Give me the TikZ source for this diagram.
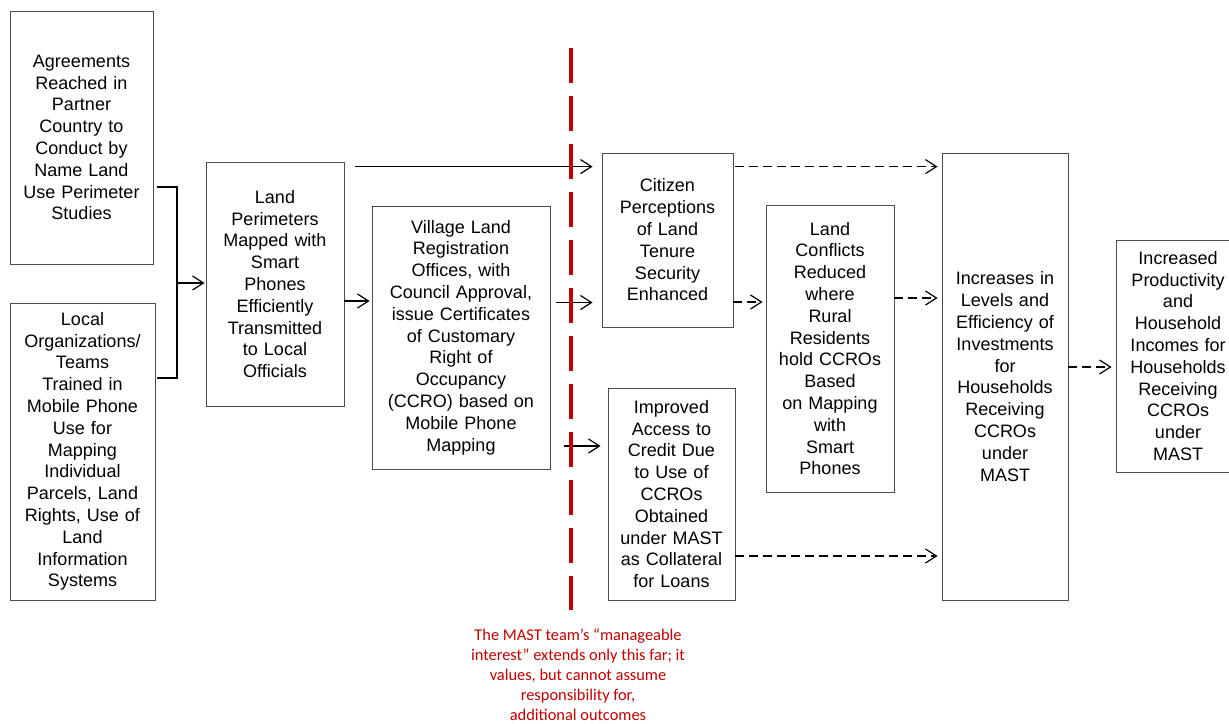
\documentclass[tikz,border=0pt]{standalone}
\usepackage{fontspec}
\setmainfont{Liberation Sans}
\newfontfamily\notefont{Carlito}
\usetikzlibrary{arrows.meta}
\definecolor{mastred}{RGB}{192,0,0}

\tikzset{
  box/.style={draw=black!70, line width=0.8pt, align=center, inner sep=0pt,
    font=\fontsize{18}{21.8}\selectfont},
  arr/.style={line width=1.2pt, -{Straight Barb[length=11pt,width=14pt]}},
  darr/.style={arr, dash pattern=on 9pt off 5pt},
  redline/.style={draw=mastred, line width=4pt, dash pattern=on 35pt off 13pt},
  note/.style={text=mastred, align=center, inner sep=0pt,
    font=\notefont\fontsize{16.4}{20}\selectfont},
}

\begin{document}
\begin{tikzpicture}[x=1pt,y=-1pt]
  \useasboundingbox (0,0) rectangle (1229,723);

  % inputs
  \node[box, text width=143pt, minimum height=253pt] (A) at (81.5,137.5)
    {Agreements\\Reached in\\Partner\\Country to\\Conduct by\\Name Land\\Use Perimeter\\Studies};
  \node[box, text width=145pt, minimum height=297pt] (B) at (82.5,451.5)
    {Local\\Organizations/\\Teams\\Trained in\\Mobile Phone\\Use for\\Mapping\\Individual\\Parcels, Land\\Rights, Use of\\Land\\Information\\Systems};

  % outputs
  \node[box, text width=138pt, minimum height=244pt] (C) at (275,284)
    {Land\\Perimeters\\Mapped with\\Smart\\Phones\\Efficiently\\Transmitted\\to Local\\Officials};
  \node[box, text width=178pt, minimum height=263pt] (D) at (461,337.5)
    {Village Land\\Registration\\Offices, with\\Council Approval,\\issue Certificates\\of Customary\\Right of\\Occupancy\\(CCRO) based on\\Mobile Phone\\Mapping};

  % outcomes
  \node[box, text width=131pt, minimum height=174pt] (E) at (667.5,240)
    {Citizen\\Perceptions\\of Land\\Tenure\\Security\\Enhanced};
  \node[box, text width=127pt, minimum height=212pt] (F) at (671.5,494)
    {Improved\\Access to\\Credit Due\\to Use of\\CCROs\\Obtained\\under MAST\\as Collateral\\for Loans};
  \node[box, text width=128pt, minimum height=287pt] (G) at (830,348.5)
    {Land\\Conflicts\\Reduced\\where\\Rural\\Residents\\hold CCROs\\Based\\on Mapping\\with\\Smart\\Phones};
  \node[box, text width=126pt, minimum height=447pt] (H) at (1005,376.5)
    {Increases in\\Levels and\\Efficiency of\\Investments\\for\\Households\\Receiving\\CCROs\\under\\MAST};
  \node[box, text width=124pt, minimum height=232pt] (I) at (1178,356)
    {Increased\\Productivity\\and\\Household\\Incomes for\\Households\\Receiving\\CCROs\\under\\MAST};

  % bracket joining the inputs
  \coordinate (bt) at (157,187);
  \coordinate (bb) at (157,378);
  \coordinate (bm) at (177,283);
  \draw[line width=1.2pt] (bt) -- (bt -| bm) -- (bb -| bm) -- (bb);
  \draw[arr, shorten >=1pt] (bm) -- (bm -| C.west);

  % solid links
  \coordinate (c1) at ([xshift=11pt,yshift=-5pt]C.north east);
  \draw[arr, shorten >=9pt] (c1) -- (c1 -| E.west);
  \coordinate (c2) at ([yshift=-17pt]C.east);
  \draw[arr, shorten >=2pt] (c2) -- (c2 -| D.west);
  \coordinate (d1) at ([xshift=6pt,yshift=35pt]D.east);
  \draw[arr, shorten >=9pt] (d1) -- (d1 -| E.west);
  \coordinate (d2) at ([xshift=14pt,yshift=-108.5pt]D.east);
  \draw[arr, shorten >=7pt] (d2) -- (d2 -| F.west);

  % dashed links
  \coordinate (e1) at ([xshift=2pt,yshift=-14pt]E.north east);
  \draw[darr, shorten >=4pt] (e1) -- (e1 -| H.west);
  \coordinate (e2) at ([yshift=-62pt]E.east);
  \draw[darr, shorten >=3pt] (e2) -- (e2 -| G.west);
  \coordinate (g1) at ([yshift=50.5pt]G.east);
  \draw[darr, shorten >=4pt] (g1) -- (g1 -| H.west);
  \coordinate (f1) at ([yshift=-62pt]F.east);
  \draw[darr, shorten >=4pt] (f1) -- (f1 -| H.west);
  \coordinate (h1) at ([yshift=9.5pt]H.east);
  \draw[darr, shorten >=4pt] (h1) -- (h1 -| I.west);

  % limit of manageable interest
  \draw[redline] (571,48) -- (571,610);
  \node[note] (note) at (578,675)
    {The MAST team’s “manageable\\interest” extends only this far; it\\values, but cannot assume\\responsibility for,\\additional outcomes};
\end{tikzpicture}
\end{document}
